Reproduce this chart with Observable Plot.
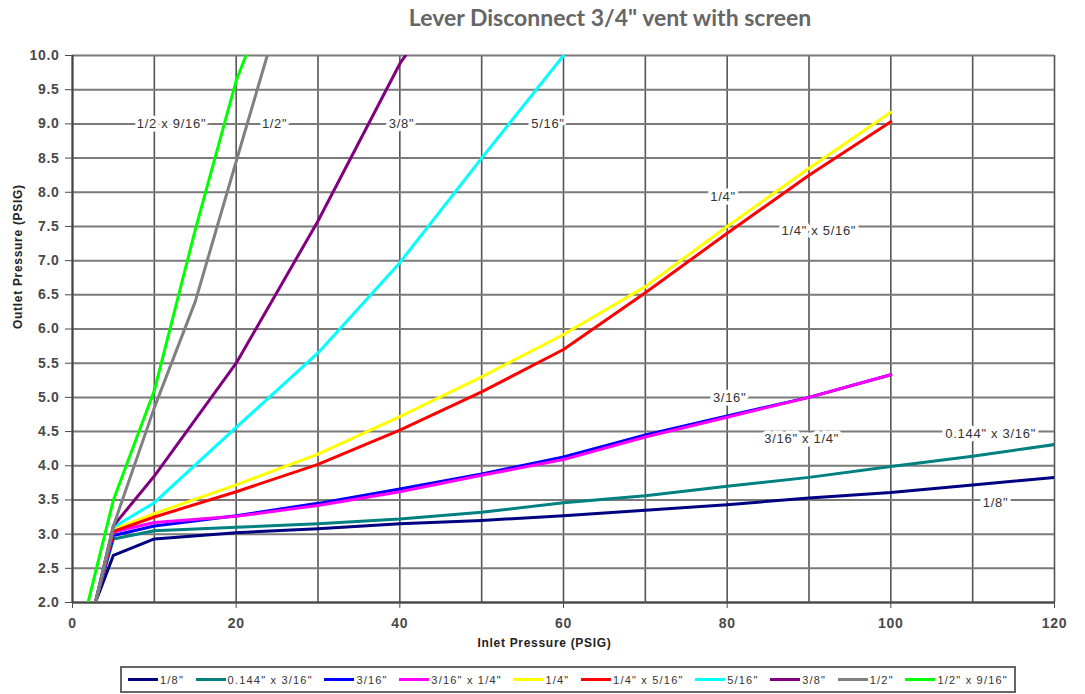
<!DOCTYPE html>
<html><head><meta charset="utf-8">
<script src="https://cdn.jsdelivr.net/npm/d3@7"></script>
<script src="https://cdn.jsdelivr.net/npm/@observablehq/plot@0.6"></script>
<style>
body{margin:0;background:#fff;font-family:"Liberation Sans",Arial,sans-serif;width:1085px;height:694px;overflow:hidden;position:relative}
#title{position:absolute;top:3px;left:0;width:1085px;text-align:center;padding-left:135px;box-sizing:border-box;font:bold 23px Lato,"Open Sans",sans-serif;color:#666}
#chart{position:absolute;top:36px;left:0}
#chart svg text{letter-spacing:0.7px}
#chart svg g[aria-label="axis-title"] text{letter-spacing:0.2px}
#legend{position:absolute;left:120px;top:666px;width:896px;height:27px;border:2px solid #666;box-sizing:border-box;display:flex;justify-content:space-between;align-items:center;padding:0 6px;font-size:11px;letter-spacing:1.2px;color:#333;background:#fff}
.item{display:flex;align-items:center;white-space:nowrap}
.sw{width:30px;height:3px;margin-right:2px}
</style>
</head><body>
<div id="title">Lever Disconnect 3/4" vent with screen</div>
<div id="chart"></div>
<div id="legend"></div>
<script>
// Series names and colours
const seriesNames = ['1/8"', '0.144" x 3/16"', '3/16"', '3/16" x 1/4"', '1/4"', '1/4" x 5/16"', '5/16"', '3/8"', '1/2"', '1/2" x 9/16"'];
const seriesColors = ["#000080", "#008080", "#0000ff", "#ff00ff", "#ffff00", "#ff0000", "#00ffff", "#800080", "#808080", "#00ff00"];

// [inlet, outlet] pairs
const s1_8     = [[2.8,2.0],[5,2.69],[10,2.93],[20,3.02],[30,3.08],[40,3.15],[50,3.2],[60,3.27],[70,3.35],[80,3.43],[90,3.53],[100,3.61],[110,3.72],[120,3.83]];
const s144_316 = [[2.8,2.0],[5,2.93],[10,3.05],[20,3.1],[30,3.15],[40,3.22],[50,3.32],[60,3.46],[70,3.56],[80,3.7],[90,3.83],[100,3.99],[110,4.14],[120,4.31]];
const s3_16    = [[2.8,2.0],[5,2.98],[10,3.12],[20,3.27],[30,3.45],[40,3.66],[50,3.88],[60,4.13],[70,4.45],[80,4.73],[90,5.0],[100,5.33]];
const s316_14  = [[2.8,2.0],[5,3.03],[10,3.17],[20,3.26],[30,3.42],[40,3.62],[50,3.86],[60,4.09],[70,4.42],[80,4.71],[90,5.0],[100,5.33]];
const s1_4     = [[2.8,2.0],[5,3.07],[10,3.3],[20,3.72],[30,4.17],[40,4.72],[50,5.3],[60,5.92],[70,6.62],[80,7.5],[90,8.35],[100,9.17]];
const s14_516  = [[2.8,2.0],[5,3.04],[10,3.25],[20,3.62],[30,4.02],[40,4.52],[50,5.08],[60,5.7],[70,6.53],[80,7.4],[90,8.25],[100,9.03]];
const s5_16    = [[2.8,2.0],[5,3.1],[10,3.46],[20,4.56],[30,5.65],[40,6.97],[50,8.5],[60,10.0]];
const s3_8     = [[2.8,2.0],[5,3.12],[10,3.85],[20,5.5],[30,7.58],[40,9.88],[40.7,10.0]];
const s1_2     = [[2.8,2.0],[5,3.12],[10,4.85],[15,6.4],[20,8.45],[23.8,10.0]];
const s12_916  = [[1.9,2.0],[5,3.5],[10,5.1],[15,7.45],[20,9.63],[21.2,10.0]];
const seriesData = [s1_8, s144_316, s3_16, s316_14, s1_4, s14_516, s5_16, s3_8, s1_2, s12_916];

// Axis ticks and grid
const xTicks = [0, 20, 40, 60, 80, 100, 120];
const xGrid = [0, 10, 20, 30, 40, 50, 60, 70, 80, 90, 100, 110, 120];
const yTicks = [2, 2.5, 3, 3.5, 4, 4.5, 5, 5.5, 6, 6.5, 7, 7.5, 8, 8.5, 9, 9.5, 10];

// In-chart curve labels
const labelText = ['1/2 x 9/16"', '1/2"', '3/8"', '5/16"', '1/4"', '1/4" x 5/16"', '3/16"', '3/16" x 1/4"', '0.144" x 3/16"', '1/8"'];
const labelX = [12.1, 24.7, 40.2, 58.1, 79.5, 91.2, 80.3, 89.1, 112.2, 112.8];
const labelY = [9.0, 9.0, 9.0, 9.0, 7.94, 7.44, 5.0, 4.4, 4.47, 3.46];

const rows = seriesData.flatMap((pts, i) => pts.map(([x, y]) => ({series: seriesNames[i], x, y})));
const labels = labelText.map((t, i) => ({t, x: labelX[i], y: labelY[i]}));

const chart = Plot.plot({
  width: 1085, height: 626,
  marginLeft: 72, marginRight: 31, marginTop: 19, marginBottom: 60,
  style: {fontFamily: "'Liberation Sans', Arial, sans-serif", fontSize: "14px", color: "#333", background: "white", overflow: "visible"},
  x: {domain: [0, 120]},
  y: {domain: [2, 10]},
  color: {domain: seriesNames, range: seriesColors},
  marks: [
    Plot.gridX(xGrid, {stroke: "#555", strokeOpacity: 1, strokeWidth: 1.6}),
    Plot.gridY(yTicks, {stroke: "#7a7a7a", strokeOpacity: 1, strokeWidth: 2}),
    Plot.ruleY([2], {stroke: "#444", strokeWidth: 2}),
    Plot.ruleX([0], {stroke: "#444", strokeWidth: 2}),
    Plot.axisY(yTicks, {tickFormat: d => d.toFixed(1), tickSize: 7, tickPadding: 6, label: null, fontWeight: "bold", fontSize: 14, color: "#4a4a4a"}),
    Plot.axisX(xTicks, {tickSize: 6, tickPadding: 10, label: null, fontWeight: "bold", fontSize: 14, color: "#4a4a4a"}),
    Plot.line(rows, {x: "x", y: "y", z: "series", stroke: "series", strokeWidth: 3, clip: true}),
    Plot.text(labels, {x: "x", y: "y", text: "t", fill: "#333", stroke: "white", strokeWidth: 7, paintOrder: "stroke", fontSize: 13}),
    Plot.text(["Inlet Pressure (PSIG)"], {frameAnchor: "bottom", dy: 44, dx: -19, fontWeight: "bold", fill: "#222", fontSize: 12, ariaLabel: "axis-title"}),
    Plot.text(["Outlet Pressure (PSIG)"], {frameAnchor: "left", rotate: -90, dx: -54, fontWeight: "bold", fill: "#222", fontSize: 12, ariaLabel: "axis-title"})
  ]
});
document.getElementById("chart").appendChild(chart);

const legend = document.getElementById("legend");
seriesNames.forEach((n, i) => {
  const item = document.createElement("div");
  item.className = "item";
  const sw = document.createElement("span");
  sw.className = "sw";
  sw.style.background = seriesColors[i];
  const tx = document.createElement("span");
  tx.textContent = n;
  item.appendChild(sw); item.appendChild(tx);
  legend.appendChild(item);
});
</script>
</body></html>
